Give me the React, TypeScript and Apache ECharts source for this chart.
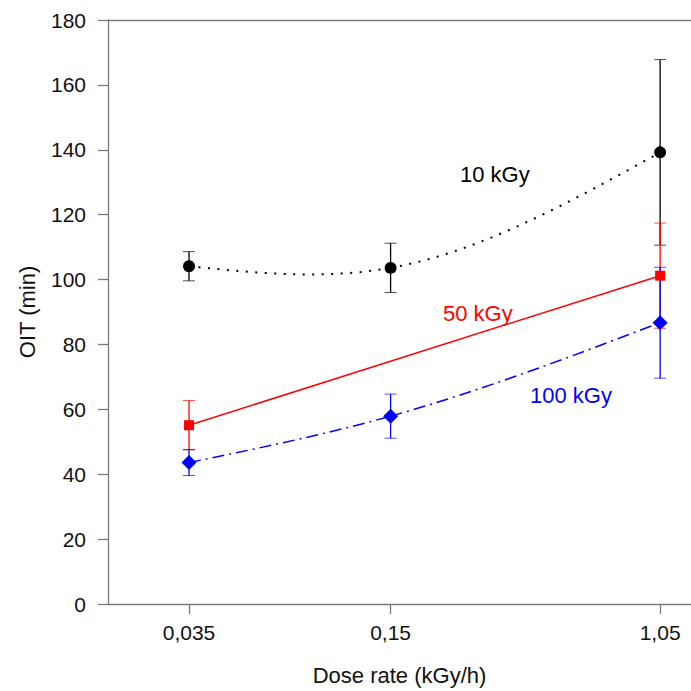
import React, { useEffect, useRef } from "react";
import * as echarts from "echarts";

// Dose rates (kGy/h) and their tick labels
const doseRates = [0.035, 0.15, 1.05];
const doseLabels = ["0,035", "0,15", "1,05"];

// OIT (min) with error half-widths
const oit10 = [104.1, 103.6, 139.2];
const err10 = [4.5, 7.6, 28.6];
const oit50: (number | null)[] = [55.1, null, 101.2];
const err50: (number | null)[] = [7.6, null, 16.2];
const oit100 = [43.6, 57.9, 86.7];
const err100 = [4.0, 6.8, 17.1];

const yTicks = { min: 0, max: 180, interval: 20 };
const seriesLabels = ["10 kGy", "50 kGy", "100 kGy"];

const FONT = "'Liberation Sans', Arial, Helvetica, sans-serif";
const AXIS_COLOR = "#7a7a7a";
const X_MIN = -1.71;
const X_MAX = 0.118;

const logX = doseRates.map((v) => Math.log10(v));

function points(vals: (number | null)[]) {
  const out: number[][] = [];
  vals.forEach((v, i) => {
    if (v !== null) out.push([logX[i], v]);
  });
  return out;
}
function errs(vals: (number | null)[], e: (number | null)[]) {
  const out: number[][] = [];
  vals.forEach((v, i) => {
    const d = e[i];
    if (v !== null && d !== null) out.push([logX[i], v - d, v + d]);
  });
  return out;
}

function errSeries(data: number[][], color: string) {
  return {
    type: "custom",
    data,
    encode: { x: 0, y: [1, 2] },
    renderItem: (params: any, api: any) => {
      const x = api.value(0);
      const lo = api.coord([x, api.value(1)]);
      const hi = api.coord([x, api.value(2)]);
      const w = 6;
      return {
        type: "group",
        children: [
          { type: "line", shape: { x1: lo[0], y1: lo[1], x2: hi[0], y2: hi[1] }, style: { stroke: color, lineWidth: 1.3 } },
          { type: "line", shape: { x1: lo[0] - w, y1: lo[1], x2: lo[0] + w, y2: lo[1] }, style: { stroke: color, lineWidth: 1, opacity: 0.7 } },
          { type: "line", shape: { x1: hi[0] - w, y1: hi[1], x2: hi[0] + w, y2: hi[1] }, style: { stroke: color, lineWidth: 1, opacity: 0.7 } },
        ],
      };
    },
    z: 2,
  };
}

// Natural cubic spline through pixel coordinates -> bezier control points per segment
function splineSegments(px: number[][]) {
  const n = px.length;
  const h: number[] = [];
  for (let i = 0; i < n - 1; i++) h.push(px[i + 1][0] - px[i][0]);
  const M = new Array(n).fill(0);
  if (n > 2) {
    // tridiagonal solve for interior second derivatives
    const a: number[] = [], b: number[] = [], c: number[] = [], d: number[] = [];
    for (let i = 1; i < n - 1; i++) {
      a.push(h[i - 1]);
      b.push(2 * (h[i - 1] + h[i]));
      c.push(h[i]);
      d.push(6 * ((px[i + 1][1] - px[i][1]) / h[i] - (px[i][1] - px[i - 1][1]) / h[i - 1]));
    }
    const m = b.length;
    for (let i = 1; i < m; i++) {
      const w = a[i] / b[i - 1];
      b[i] -= w * c[i - 1];
      d[i] -= w * d[i - 1];
    }
    const sol = new Array(m).fill(0);
    sol[m - 1] = d[m - 1] / b[m - 1];
    for (let i = m - 2; i >= 0; i--) sol[i] = (d[i] - c[i] * sol[i + 1]) / b[i];
    for (let i = 0; i < m; i++) M[i + 1] = sol[i];
  }
  const segs: number[][][] = [];
  for (let i = 0; i < n - 1; i++) {
    const hi = h[i];
    const dy = (px[i + 1][1] - px[i][1]) / hi;
    const s0 = dy - (hi * (2 * M[i] + M[i + 1])) / 6;
    const s1 = dy + (hi * (M[i] + 2 * M[i + 1])) / 6;
    segs.push([
      px[i],
      [px[i][0] + hi / 3, px[i][1] + (s0 * hi) / 3],
      [px[i + 1][0] - hi / 3, px[i + 1][1] - (s1 * hi) / 3],
      px[i + 1],
    ]);
  }
  return segs;
}

function curveSeries(data: number[][], color: string, width: number, dash: number[]) {
  return {
    type: "custom",
    data,
    encode: { x: 0, y: 1 },
    renderItem: (params: any, api: any) => {
      const i = params.dataIndex;
      if (i >= data.length - 1) return null;
      const px = data.map((p) => api.coord(p));
      const s = splineSegments(px)[i];
      return {
        type: "bezierCurve",
        shape: { x1: s[0][0], y1: s[0][1], cpx1: s[1][0], cpy1: s[1][1], cpx2: s[2][0], cpy2: s[2][1], x2: s[3][0], y2: s[3][1] },
        style: { stroke: color, lineWidth: width, lineDash: dash, fill: null },
      };
    },
    z: 2,
  };
}

export default function App() {
  const ref = useRef<HTMLDivElement>(null);
  useEffect(() => {
    if (!ref.current) return;
    const chart = echarts.init(ref.current, null, { renderer: "svg" });
    const labelFor = (v: number) => {
      let best = 0;
      logX.forEach((lx, i) => {
        if (Math.abs(lx - v) < Math.abs(logX[best] - v)) best = i;
      });
      return doseLabels[best];
    };
    const p10 = points(oit10);
    const p50 = points(oit50);
    const p100 = points(oit100);
    chart.setOption({
      animation: false,
      grid: { left: 108, top: 20, right: 0, bottom: 86, containLabel: false },
      xAxis: [
        {
          type: "value",
          min: X_MIN,
          max: X_MAX,
          axisLine: { onZero: false, lineStyle: { color: AXIS_COLOR, width: 1.3 } },
          axisTick: { customValues: logX, length: 10, lineStyle: { color: AXIS_COLOR, width: 1.3 } },
          axisLabel: {
            customValues: logX,
            formatter: (v: number) => labelFor(v),
            margin: 18,
            fontSize: 21,
            color: "#111",
            fontFamily: FONT,
          },
          splitLine: { show: false },
          name: "Dose rate (kGy/h)",
          nameLocation: "middle",
          nameGap: 60,
          nameTextStyle: { fontSize: 22, color: "#111", fontFamily: FONT },
        },
        {
          type: "value",
          position: "top",
          min: X_MIN,
          max: X_MAX,
          axisLine: { onZero: false, lineStyle: { color: AXIS_COLOR, width: 1.3 } },
          axisTick: { show: false },
          axisLabel: { show: false },
          splitLine: { show: false },
        },
      ],
      yAxis: {
        type: "value",
        min: yTicks.min,
        max: yTicks.max,
        interval: yTicks.interval,
        axisLine: { show: true, onZero: false, lineStyle: { color: AXIS_COLOR, width: 1.3 } },
        axisTick: { show: true, length: 10, lineStyle: { color: AXIS_COLOR, width: 1.3 } },
        axisLabel: { margin: 22, fontSize: 21, color: "#111", fontFamily: FONT },
        splitLine: { show: false },
        name: "OIT (min)",
        nameLocation: "middle",
        nameGap: 70,
        nameTextStyle: { fontSize: 22, color: "#111", fontFamily: FONT },
      },
      graphic: [
        { type: "text", x: 460, y: 174, style: { text: seriesLabels[0], fill: "#000", font: `22px ${FONT}`, textAlign: "left", textVerticalAlign: "middle", align: "left", verticalAlign: "middle" } },
        { type: "text", x: 443, y: 313, style: { text: seriesLabels[1], fill: "#ff0000", font: `22px ${FONT}`, textAlign: "left", textVerticalAlign: "middle", align: "left", verticalAlign: "middle" } },
        { type: "text", x: 530, y: 395, style: { text: seriesLabels[2], fill: "#0000ff", font: `22px ${FONT}`, textAlign: "left", textVerticalAlign: "middle", align: "left", verticalAlign: "middle" } },
      ],
      series: [
        errSeries(errs(oit10, err10), "#000000"),
        curveSeries(p10, "#000000", 2, [2, 7.5]),
        {
          type: "line",
          name: seriesLabels[0],
          data: p10,
          symbol: "circle",
          symbolSize: 12,
          itemStyle: { color: "#000000" },
          lineStyle: { opacity: 0 },
          z: 3,
        },
        errSeries(errs(oit50, err50), "#ff0000"),
        {
          type: "line",
          name: seriesLabels[1],
          data: p50,
          symbol: "rect",
          symbolSize: 10,
          itemStyle: { color: "#ff0000" },
          lineStyle: { color: "#ff0000", width: 1.5 },
          z: 3,
        },
        errSeries(errs(oit100, err100), "#0000ff"),
        curveSeries(p100, "#0000ff", 1.5, [12, 5, 2, 5]),
        {
          type: "line",
          name: seriesLabels[2],
          data: p100,
          symbol: "diamond",
          symbolSize: 15,
          itemStyle: { color: "#0000ff" },
          lineStyle: { opacity: 0 },
          z: 3,
        },
      ],
    });
    return () => chart.dispose();
  }, []);
  return (
    <div
      ref={ref}
      style={{ position: "absolute", left: 0, top: 0, width: 691, height: 691, background: "#fff" }}
    />
  );
}
